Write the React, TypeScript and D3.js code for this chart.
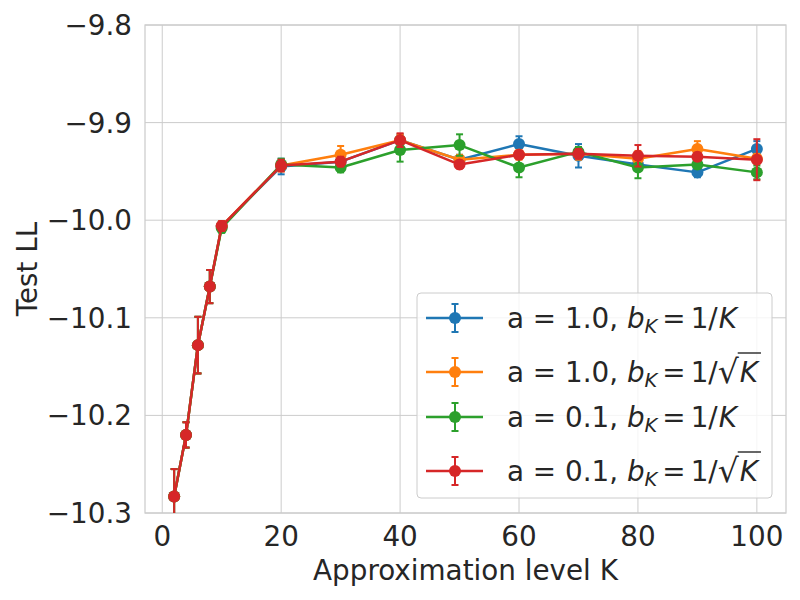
import React, { useEffect, useRef } from "react";
import * as d3 from "d3";

const K = [2, 4, 6, 8, 10, 20, 30, 40, 50, 60, 70, 80, 90, 100];

const blueMean = [-10.283, -10.22, -10.128, -10.068, -10.006, -9.945, -9.94, -9.918, -9.938, -9.922, -9.934, -9.943, -9.951, -9.927];
const blueErr = [0.028, 0.013, 0.029, 0.017, 0.005, 0.008, 0.006, 0.006, 0.005, 0.008, 0.012, 0.006, 0.005, 0.008];

const orangeMean = [-10.283, -10.22, -10.128, -10.068, -10.006, -9.944, -9.933, -9.918, -9.938, -9.933, -9.932, -9.937, -9.927, -9.937];
const orangeErr = [0.028, 0.013, 0.029, 0.017, 0.005, 0.006, 0.009, 0.006, 0.005, 0.005, 0.006, 0.008, 0.008, 0.005];

const greenMean = [-10.283, -10.22, -10.128, -10.068, -10.008, -9.943, -9.946, -9.928, -9.923, -9.946, -9.93, -9.946, -9.943, -9.951];
const greenErr = [0.028, 0.013, 0.029, 0.017, 0.005, 0.006, 0.005, 0.012, 0.011, 0.01, 0.005, 0.011, 0.004, 0.007];

const redMean = [-10.283, -10.22, -10.128, -10.068, -10.006, -9.944, -9.94, -9.918, -9.943, -9.933, -9.932, -9.934, -9.935, -9.938];
const redErr = [0.028, 0.013, 0.029, 0.017, 0.005, 0.006, 0.005, 0.007, 0.004, 0.004, 0.005, 0.011, 0.004, 0.021];

const seriesA = ["1.0", "1.0", "0.1", "0.1"];
const seriesSqrt = [false, true, false, true];
const seriesColors = ["#1f77b4", "#ff7f0e", "#2ca02c", "#d62728"];

const xTicks = [0, 20, 40, 60, 80, 100];
const yTicks = [-10.3, -10.2, -10.1, -10.0, -9.9, -9.8];

const xLabel = "Approximation level K";
const yLabel = "Test LL";

export default function App() {
  const ref = useRef<SVGSVGElement>(null);

  useEffect(() => {
    const svg = d3.select(ref.current);
    svg.selectAll("*").remove();
    const W = 800, H = 600;
    const left = 145, right = 786, top = 25, bottom = 513;
    const font = "'DejaVu Sans', sans-serif";
    const fs = 27.8;
    const txt = "#262626";
    const grid = "#cccccc";

    const x = d3.scaleLinear().domain([-2.9, 104.9]).range([left, right]);
    const y = d3.scaleLinear().domain([-10.3, -9.8]).range([bottom, top]);

    svg.append("rect").attr("width", W).attr("height", H).attr("fill", "white");

    svg.append("defs").append("clipPath").attr("id", "plotclip")
      .append("rect").attr("x", left).attr("y", top).attr("width", right - left).attr("height", bottom - top);

    // grid
    const g = svg.append("g");
    xTicks.forEach((t) => {
      g.append("line").attr("x1", x(t)).attr("x2", x(t)).attr("y1", top).attr("y2", bottom)
        .attr("stroke", grid).attr("stroke-width", 1);
    });
    yTicks.forEach((t) => {
      g.append("line").attr("x1", left).attr("x2", right).attr("y1", y(t)).attr("y2", y(t))
        .attr("stroke", grid).attr("stroke-width", 1);
    });
    g.append("rect").attr("x", left).attr("y", top).attr("width", right - left).attr("height", bottom - top)
      .attr("fill", "none").attr("stroke", grid).attr("stroke-width", 1.25);

    // tick labels
    const fmt = (v: number) => (v < 0 ? "\u2212" : "") + Math.abs(v).toFixed(1);
    yTicks.forEach((t) => {
      svg.append("text").attr("x", 132).attr("y", y(t)).attr("dy", "0.36em")
        .attr("text-anchor", "end").attr("font-family", font).attr("font-size", fs)
        .attr("fill", txt).text(fmt(t));
    });
    xTicks.forEach((t) => {
      svg.append("text").attr("x", x(t)).attr("y", 546)
        .attr("text-anchor", "middle").attr("font-family", font).attr("font-size", fs)
        .attr("fill", txt).text(String(t));
    });

    svg.append("text").attr("x", (left + right) / 2).attr("y", 580)
      .attr("text-anchor", "middle").attr("font-family", font).attr("font-size", fs)
      .attr("fill", txt).text(xLabel);
    svg.append("text").attr("transform", `translate(37,${(top + bottom) / 2}) rotate(-90)`)
      .attr("text-anchor", "middle").attr("font-family", font).attr("font-size", fs)
      .attr("fill", txt).text(yLabel);

    // data
    const means = [blueMean, orangeMean, greenMean, redMean];
    const errs = [blueErr, orangeErr, greenErr, redErr];
    const plot = svg.append("g").attr("clip-path", "url(#plotclip)");
    const line = d3.line<number>().x((_, i) => x(K[i])).y((d) => y(d));
    means.forEach((m, s) => {
      const c = seriesColors[s];
      const sg = plot.append("g");
      sg.append("path").attr("d", line(m) || "").attr("fill", "none").attr("stroke", c)
        .attr("stroke-width", 2.5).attr("stroke-linejoin", "round");
      m.forEach((v, i) => {
        const e = errs[s][i];
        const cx = x(K[i]);
        const y1 = y(v - e), y2 = y(v + e);
        sg.append("line").attr("x1", cx).attr("x2", cx).attr("y1", y1).attr("y2", y2)
          .attr("stroke", c).attr("stroke-width", 2);
        [y1, y2].forEach((yy) => {
          sg.append("line").attr("x1", cx - 3.5).attr("x2", cx + 3.5).attr("y1", yy).attr("y2", yy)
            .attr("stroke", c).attr("stroke-width", 2);
        });
        sg.append("circle").attr("cx", cx).attr("cy", y(v)).attr("r", 6).attr("fill", c);
      });
    });

    // legend
    const lg = svg.append("g");
    lg.append("rect").attr("x", 417).attr("y", 293).attr("width", 355).attr("height", 205)
      .attr("rx", 4).attr("fill", "white").attr("fill-opacity", 0.8)
      .attr("stroke", grid).attr("stroke-width", 1);
    const rowY = [318, 372, 417, 471];
    seriesColors.forEach((c, s) => {
      const cy = rowY[s];
      lg.append("line").attr("x1", 426).attr("x2", 483).attr("y1", cy).attr("y2", cy)
        .attr("stroke", c).attr("stroke-width", 2.5);
      lg.append("line").attr("x1", 455).attr("x2", 455).attr("y1", cy - 14).attr("y2", cy + 14)
        .attr("stroke", c).attr("stroke-width", 2);
      [cy - 14, cy + 14].forEach((yy) => {
        lg.append("line").attr("x1", 451.5).attr("x2", 458.5).attr("y1", yy).attr("y2", yy)
          .attr("stroke", c).attr("stroke-width", 2);
      });
      lg.append("circle").attr("cx", 455).attr("cy", cy).attr("r", 6).attr("fill", c);

      const base = cy + 10;
      const t = lg.append("text").attr("x", 507).attr("y", base).attr("font-family", font)
        .attr("font-size", fs).attr("fill", txt);
      t.append("tspan").text(`a = ${seriesA[s]}, `).attr("xml:space", "preserve");
      t.append("tspan").attr("font-style", "italic").text("b");
      t.append("tspan").attr("font-style", "italic").attr("font-size", 19.5).attr("dy", 5).text("K");
      t.append("tspan").attr("dy", -5).attr("dx", 5).text("=");
      t.append("tspan").attr("dx", 5).text("1/");
      if (seriesSqrt[s]) {
        t.append("tspan").attr("font-size", 33).attr("dy", 1).text("\u221A");
      }
      const kSpan = t.append("tspan").attr("font-style", "italic").attr("dx", 1)
        .attr("dy", seriesSqrt[s] ? -1 : 0).text("K");
      if (seriesSqrt[s]) {
        const node = kSpan.node() as SVGTSpanElement;
        try {
          const st = node.getStartPositionOfChar(0);
          const en = node.getEndPositionOfChar(0);
          lg.append("line").attr("x1", st.x - 2).attr("x2", en.x + 3)
            .attr("y1", base - 29).attr("y2", base - 29)
            .attr("stroke", txt).attr("stroke-width", 1.4);
        } catch (err) {
          // ignore
        }
      }
    });
  }, []);

  return (
    <svg ref={ref} width={800} height={600} style={{ position: "absolute", left: 0, top: 0 }} />
  );
}
